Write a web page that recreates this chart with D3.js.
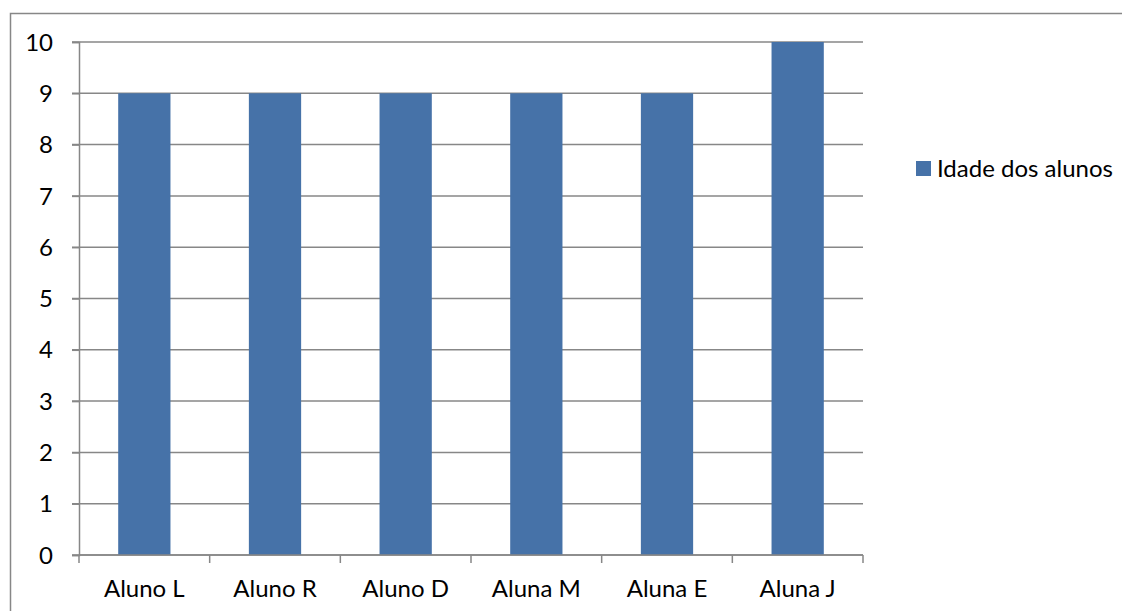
<!DOCTYPE html>
<html>
<head>
<meta charset="utf-8">
<script src="https://cdn.jsdelivr.net/npm/d3@7"></script>
<style>
  html, body { margin: 0; padding: 0; background: #fff; overflow: hidden; }
  svg { display: block; }
  svg text { font-family: Lato, "Open Sans", sans-serif; fill: #000; }
</style>
</head>
<body>
<svg id="chart" width="1122" height="611"></svg>
<script>
// Idade dos alunos
const categories = ["Aluno L", "Aluno R", "Aluno D", "Aluna M", "Aluna E", "Aluna J"];
const idades = [9, 9, 9, 9, 9, 10];
const yTicks = [0, 1, 2, 3, 4, 5, 6, 7, 8, 9, 10];
const seriesName = "Idade dos alunos";

const svg = d3.select("#chart");
const barColor = "#4672A8";
const gridColor = "#878787";
const fontSize = 24;

// outer frame
svg.append("rect")
  .attr("x", 10.5).attr("y", 13.5)
  .attr("width", 1140).attr("height", 620)
  .attr("fill", "none").attr("stroke", gridColor).attr("stroke-width", 1.5);

const plot = { left: 79, right: 863, top: 42, bottom: 555 };

const x = d3.scaleBand().domain(categories).range([plot.left, plot.right]).paddingInner(0.6).paddingOuter(0.3);
const y = d3.scaleLinear().domain([0, 10]).range([plot.bottom, plot.top]);

// horizontal gridlines
svg.append("g").selectAll("line").data(yTicks).join("line")
  .attr("x1", plot.left - 7).attr("x2", plot.right)
  .attr("y1", d => y(d)).attr("y2", d => y(d))
  .attr("stroke", gridColor).attr("stroke-width", 1.5);

// bars
svg.append("g").selectAll("rect").data(idades).join("rect")
  .attr("x", (d, i) => x(categories[i]))
  .attr("y", d => y(d))
  .attr("width", x.bandwidth())
  .attr("height", d => y(0) - y(d))
  .attr("fill", barColor);

// y axis
const yAxis = svg.append("g")
  .attr("transform", `translate(${plot.left},0)`)
  .call(d3.axisLeft(y).tickValues(yTicks).tickFormat(d3.format("d")).tickSize(7).tickPadding(19));
yAxis.select(".domain").attr("stroke", gridColor).attr("stroke-width", 1.5);
yAxis.selectAll(".tick line").attr("stroke", gridColor).attr("stroke-width", 1.5);
yAxis.selectAll("text").style("font-size", fontSize + "px").attr("fill", "#000").attr("dy", "0.34em");

// x axis with ticks at band boundaries
const outer = d3.scaleBand().domain(categories).range([plot.left, plot.right]);
const boundaries = categories.map(c => outer(c)).concat([plot.right]);
const xg = svg.append("g");
xg.append("line")
  .attr("x1", plot.left).attr("x2", plot.right)
  .attr("y1", plot.bottom).attr("y2", plot.bottom)
  .attr("stroke", gridColor).attr("stroke-width", 1.5);
xg.selectAll("line.t").data(boundaries).join("line").attr("class", "t")
  .attr("x1", d => d).attr("x2", d => d)
  .attr("y1", plot.bottom).attr("y2", plot.bottom + 8)
  .attr("stroke", gridColor).attr("stroke-width", 1.5);
xg.selectAll("text").data(categories).join("text")
  .attr("x", d => outer(d) + outer.bandwidth() / 2)
  .attr("y", 589)
  .attr("dy", "0.35em")
  .attr("text-anchor", "middle")
  .style("font-size", fontSize + "px")
  .text(d => d);

// legend
const legend = svg.append("g").attr("transform", "translate(916,161)");
legend.append("rect").attr("width", 15).attr("height", 15).attr("fill", barColor);
legend.append("text").attr("x", 21).attr("y", 7.5).attr("dy", "0.35em")
  .style("font-size", fontSize + "px").text(seriesName);
</script>
</body>
</html>
